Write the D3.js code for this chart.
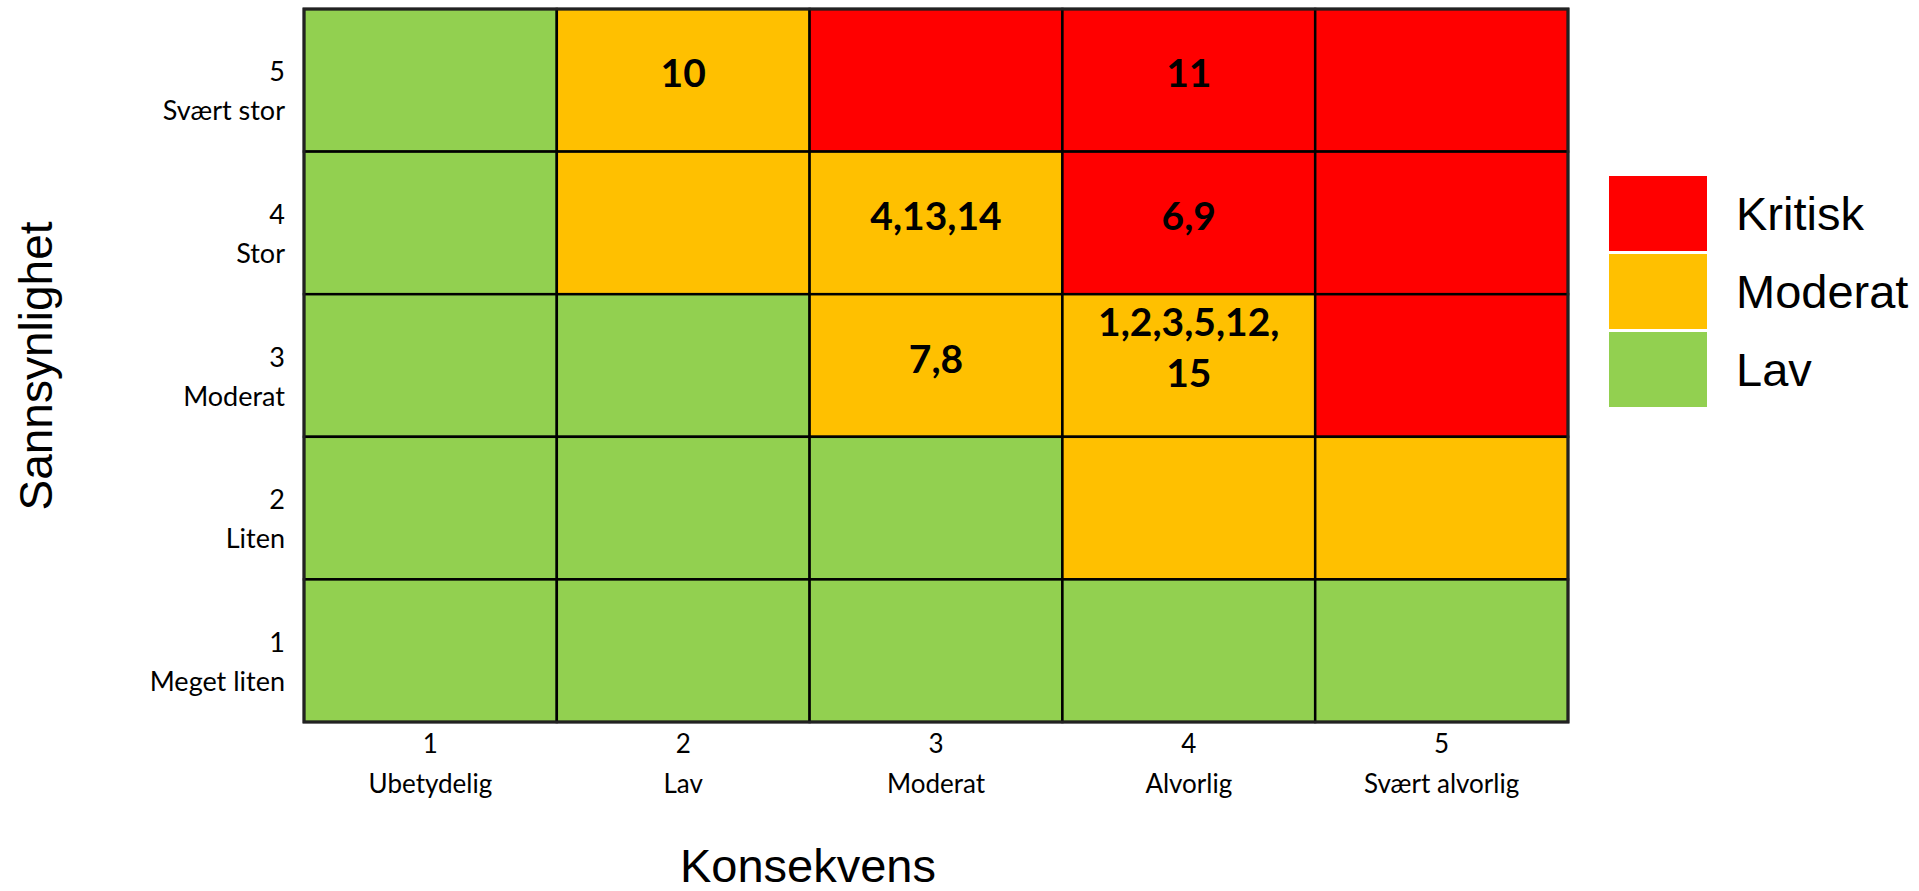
<!DOCTYPE html>
<html>
<head>
<meta charset="utf-8">
<script src="https://cdn.jsdelivr.net/npm/d3@7"></script>
<style>
  body { margin: 0; background: #fff; }
  svg { display: block; }
</style>
</head>
<body>
<svg id="chart" width="1919" height="891"></svg>
<script>
// consequence (x) and probability (y) categories
const consequenceLevels = [1, 2, 3, 4, 5];
const consequenceNames = ["Ubetydelig", "Lav", "Moderat", "Alvorlig", "Svært alvorlig"];
const probabilityLevels = [5, 4, 3, 2, 1];
const probabilityNames = {5: "Svært stor", 4: "Stor", 3: "Moderat", 2: "Liten", 1: "Meget liten"};

// risk level per cell, rows = probability 5..1, cols = consequence 1..5
const riskMatrix = [
    ["Lav", "Moderat", "Kritisk", "Kritisk", "Kritisk"],
    ["Lav", "Moderat", "Moderat", "Kritisk", "Kritisk"],
    ["Lav", "Lav", "Moderat", "Moderat", "Kritisk"],
    ["Lav", "Lav", "Lav", "Moderat", "Moderat"],
    ["Lav", "Lav", "Lav", "Lav", "Lav"]
];

// numbered risks with their consequence / probability
const riskIds = [1, 2, 3, 4, 5, 6, 7, 8, 9, 10, 11, 12, 13, 14, 15];
const riskConsequence = [4, 4, 4, 3, 4, 4, 3, 3, 4, 2, 4, 4, 3, 3, 4];
const riskProbability = [3, 3, 3, 4, 3, 4, 3, 3, 4, 5, 5, 3, 4, 4, 3];

const legendLevels = ["Kritisk", "Moderat", "Lav"];
const legendColors = ["#FF0000", "#FFC000", "#92D050"];

const xTitle = "Konsekvens";
const yTitle = "Sannsynlighet";

const color = d3.scaleOrdinal().domain(legendLevels).range(legendColors);

const svg = d3.select("#chart");
svg.append("rect").attr("width", 1919).attr("height", 891).attr("fill", "#fff");

const x = d3.scaleBand().domain(consequenceLevels).range([304, 1568]);
const y = d3.scaleBand().domain(probabilityLevels).range([9, 722]);

// cells
const cells = [];
probabilityLevels.forEach((p, i) => {
    consequenceLevels.forEach((c, j) => {
        cells.push({p, c, level: riskMatrix[i][j]});
    });
});

svg.append("g")
    .selectAll("rect")
    .data(cells)
    .join("rect")
    .attr("x", d => x(d.c))
    .attr("y", d => y(d.p))
    .attr("width", x.bandwidth())
    .attr("height", y.bandwidth())
    .attr("fill", d => color(d.level))
    .attr("stroke", "#000")
    .attr("stroke-width", 2.5);

// risk numbers grouped per cell
const grouped = d3.groups(riskIds.map((id, i) => ({id, c: riskConsequence[i], p: riskProbability[i]})),
    d => d.c + "-" + d.p);

const labelG = svg.append("g")
    .attr("font-family", "Lato, 'Open Sans', sans-serif")
    .attr("font-weight", "bold")
    .attr("font-size", 39)
    .attr("fill", "#000")
    .attr("text-anchor", "middle");

grouped.forEach(([key, items]) => {
    const c = items[0].c, p = items[0].p;
    const ids = items.map(d => d.id).sort((a, b) => a - b);
    const cx = x(c) + x.bandwidth() / 2;
    const cy = y(p) + y.bandwidth() / 2;
    const maxW = x.bandwidth() - 46;

    // wrap at commas
    const text = labelG.append("text");
    const probe = text.append("tspan");
    const lines = [];
    let cur = "";
    ids.forEach((id, k) => {
        const piece = id + (k < ids.length - 1 ? "," : "");
        probe.text(cur + piece);
        if (cur && probe.node().getComputedTextLength() > maxW) {
            lines.push(cur);
            cur = piece;
        } else {
            cur += piece;
        }
    });
    lines.push(cur);
    probe.remove();

    const n = lines.length;
    lines.forEach((ln, k) => {
        text.append("tspan")
            .attr("x", cx)
            .attr("y", cy + 7 - (n - 1) * 36.5 + k * 51)
            .text(ln);
    });
});

// x axis
const xAxis = svg.append("g")
    .attr("transform", "translate(0,722)")
    .call(d3.axisBottom(x).tickSize(0));
xAxis.select(".domain").remove();
xAxis.selectAll(".tick text").each(function(d, i) {
    const t = d3.select(this).attr("dy", null).attr("y", null).text(null)
        .attr("font-family", "Lato, 'Open Sans', sans-serif")
        .attr("font-size", 26)
        .attr("fill", "#000");
    t.append("tspan").attr("x", 0).attr("y", 31).text(d);
    t.append("tspan").attr("x", 0).attr("y", 71).text(consequenceNames[i]);
});

// y axis
const yAxis = svg.append("g")
    .attr("transform", "translate(304,0)")
    .call(d3.axisLeft(y).tickSize(0));
yAxis.select(".domain").remove();
yAxis.selectAll(".tick text").each(function(d) {
    const t = d3.select(this).attr("dy", null).attr("x", null).text(null)
        .attr("font-family", "Lato, 'Open Sans', sans-serif")
        .attr("font-size", 27)
        .attr("fill", "#000")
        .attr("text-anchor", "end");
    t.append("tspan").attr("x", -19).attr("y", 1).text(d);
    t.append("tspan").attr("x", -19).attr("y", 40).text(probabilityNames[d]);
});

// outer border
svg.append("rect")
    .attr("x", 304).attr("y", 9)
    .attr("width", 1568 - 304).attr("height", 722 - 9)
    .attr("fill", "none")
    .attr("stroke", "#222")
    .attr("stroke-width", 3);

// axis titles
svg.append("text")
    .attr("x", 808).attr("y", 882)
    .attr("text-anchor", "middle")
    .attr("font-family", "'Liberation Sans', Arial, sans-serif")
    .attr("font-size", 47)
    .text(xTitle);

svg.append("text")
    .attr("transform", "translate(52,366) rotate(-90)")
    .attr("text-anchor", "middle")
    .attr("font-family", "'Liberation Sans', Arial, sans-serif")
    .attr("font-size", 46)
    .text(yTitle);

// legend
const legend = svg.append("g").attr("transform", "translate(1609,176)");
const lg = legend.selectAll("g")
    .data(legendLevels)
    .join("g")
    .attr("transform", (d, i) => `translate(0,${i * 78})`);
lg.append("rect")
    .attr("width", 98).attr("height", 75)
    .attr("fill", d => color(d));
lg.append("text")
    .attr("x", 127).attr("y", 54)
    .attr("font-family", "'Liberation Sans', Arial, sans-serif")
    .attr("font-size", 47)
    .text(d => d);
</script>
</body>
</html>
